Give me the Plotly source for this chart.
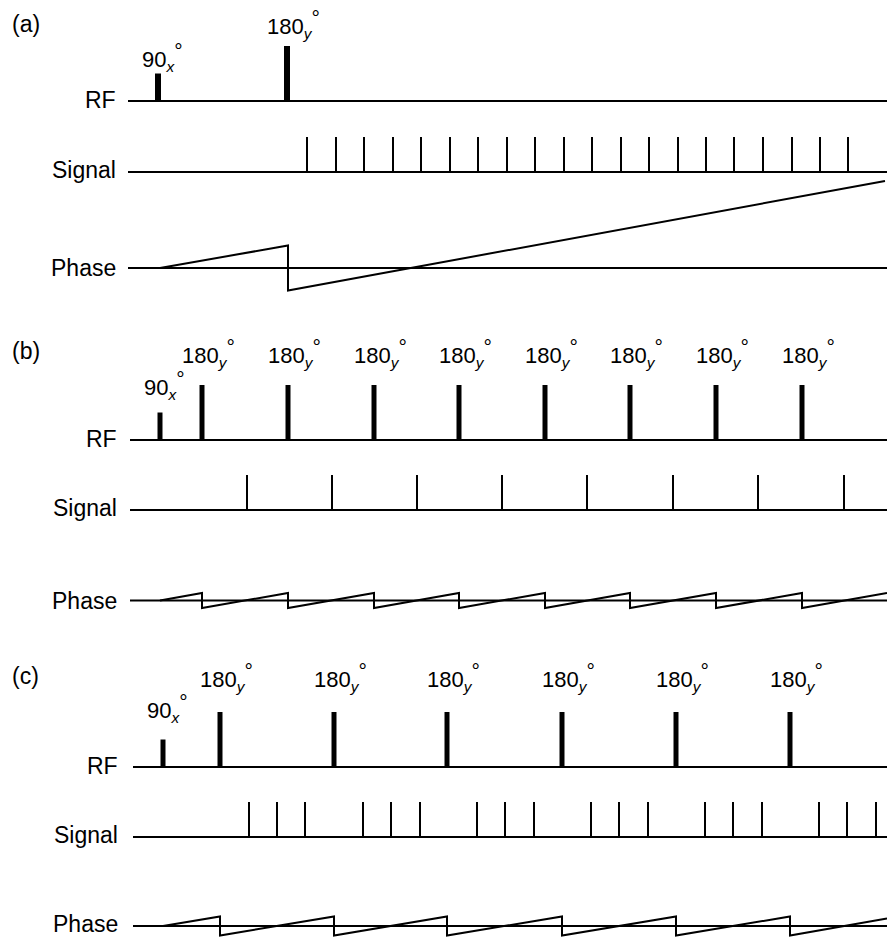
import plotly.graph_objects as go

W, H = 887, 937

# ---------------------------------------------------------------------------
# Pulse-sequence data.  Times are in arbitrary sketch units along the common
# time axis; RF amplitudes are flip angles in degrees; echo amplitudes are
# normalised; phase is in arbitrary units.
# ---------------------------------------------------------------------------

# (a) single refocusing pulse, signal sampled continuously
a_line_start = 128
a_rf_t = [158, 287]
a_rf_deg = [90, 180]
a_rf_axis = ["x", "y"]
a_sig_t = [307, 336, 364, 393, 421, 450, 478, 507, 535, 564,
           592, 621, 649, 678, 706, 734, 763, 792, 820, 848]
a_phase_t = [160, 288, 288, 885]
a_phase_v = [0, 22.5, -22.5, 87]

# (b) pulse train, one echo per interval
b_line_start = 130
b_rf_t = [160, 202, 288, 374, 459, 545, 630, 716, 802]
b_rf_deg = [90, 180, 180, 180, 180, 180, 180, 180, 180]
b_rf_axis = ["x", "y", "y", "y", "y", "y", "y", "y", "y"]
b_sig_t = [247, 332, 417, 502, 587, 673, 758, 844]
b_phase_t = [160, 202, 202, 288, 288, 374, 374, 459, 459,
             545, 545, 630, 630, 716, 716, 802, 802, 887]
b_phase_v = [0, 7.5, -7.5, 7.5, -7.5, 7.5, -7.5, 7.5, -7.5,
             7.5, -7.5, 7.5, -7.5, 7.5, -7.5, 7.5, -7.5, 7.5]

# (c) pulse train, three samples per interval
c_line_start = 133
c_rf_t = [163, 220, 334, 447, 562, 676, 790]
c_rf_deg = [90, 180, 180, 180, 180, 180, 180]
c_rf_axis = ["x", "y", "y", "y", "y", "y", "y"]
c_sig_t = [249, 277, 305, 363, 391, 420, 477, 505, 534,
           591, 619, 648, 705, 733, 762, 819, 847, 876]
c_phase_t = [163, 220, 220, 334, 334, 447, 447, 562, 562,
             676, 676, 790, 790, 887]
c_phase_v = [0, 9.5, -9.5, 9.5, -9.5, 9.5, -9.5, 9.5, -9.5,
             9.5, -9.5, 9.5, -9.5, 7.5]

row_names = ["RF", "Signal", "Phase"]
panel_tags = ["(a)", "(b)", "(c)"]

# ---------------------------------------------------------------------------
# Layout geometry (pixels from the top of the page)
# ---------------------------------------------------------------------------
panels = [
    dict(tag_y=24, base=[101, 172, 268], line_start=a_line_start,
         rf_t=a_rf_t, rf_deg=a_rf_deg, rf_axis=a_rf_axis, sig_t=a_sig_t,
         ph_t=a_phase_t, ph_v=a_phase_v, bar_w=6, lbl_dy=[17, 22],
         phase_up=91, phase_down=28, name_x=117, name_dy=[1, 2, 0]),
    dict(tag_y=351, base=[440, 510, 600.5], line_start=b_line_start,
         rf_t=b_rf_t, rf_deg=b_rf_deg, rf_axis=b_rf_axis, sig_t=b_sig_t,
         ph_t=b_phase_t, ph_v=b_phase_v, bar_w=5, lbl_dy=[28, 32],
         phase_up=22, phase_down=14, name_x=118, name_dy=[1, 2, 0]),
    dict(tag_y=676, base=[767, 837, 926], line_start=c_line_start,
         rf_t=c_rf_t, rf_deg=c_rf_deg, rf_axis=c_rf_axis, sig_t=c_sig_t,
         ph_t=c_phase_t, ph_v=c_phase_v, bar_w=5, lbl_dy=[32, 35],
         phase_up=22, phase_down=11, name_x=119, name_dy=[1, 2, 2]),
]

RF_SCALE = 55 / 180.0   # px per degree
SIG_SCALE = 35.0        # px per unit echo amplitude
PH_SCALE = 1.0          # px per phase unit

FAMILY = "Liberation Sans, Arial, Helvetica, sans-serif"
NAME_FONT = dict(family=FAMILY, size=23, color="black")
LABEL_FONT = dict(family=FAMILY, size=22, color="black")
INK = "black"


def row_axis(baseline, scale, up, down):
    top = max(baseline - up, 0)
    bot = min(baseline + down, H)
    return dict(domain=[1 - bot / H, 1 - top / H],
                range=[-(bot - baseline) / scale, (baseline - top) / scale],
                visible=False, fixedrange=True, anchor="x")


def pulse_text(deg, ax):
    return (f"{deg}<sub><i>{ax}</i></sub>"
            f"<sup><span style='font-size:21px'>°</span></sup>")


fig = go.Figure()
layout_axes = {}
annotations = []
axis_no = 0

for p, tag in zip(panels, panel_tags):
    rows = [
        (p["base"][0], RF_SCALE, 66, 8),
        (p["base"][1], SIG_SCALE, 44, 4),
        (p["base"][2], PH_SCALE, p["phase_up"], p["phase_down"]),
    ]
    ids = []
    for base, scale, up, down in rows:
        axis_no += 1
        key = "yaxis" if axis_no == 1 else f"yaxis{axis_no}"
        layout_axes[key] = row_axis(base, scale, up, down)
        ids.append("y" if axis_no == 1 else f"y{axis_no}")
    y_rf, y_sig, y_ph = ids

    # baselines of the three rows
    for yid in ids:
        fig.add_trace(go.Scatter(
            x=[p["line_start"], W], y=[0, 0], mode="lines",
            line=dict(color=INK, width=2), yaxis=yid, hoverinfo="skip"))

    # RF pulses as narrow bars whose height is the flip angle
    fig.add_trace(go.Bar(
        x=p["rf_t"], y=p["rf_deg"], width=p["bar_w"], yaxis=y_rf,
        marker=dict(color=INK, line=dict(width=0)), hoverinfo="skip"))

    # echo / sampling marks
    sx, sy = [], []
    for t in p["sig_t"]:
        sx += [t, t, None]
        sy += [0, 1, None]
    fig.add_trace(go.Scatter(
        x=sx, y=sy, mode="lines", line=dict(color=INK, width=2),
        yaxis=y_sig, hoverinfo="skip"))

    # phase evolution
    fig.add_trace(go.Scatter(
        x=p["ph_t"], y=p["ph_v"], mode="lines",
        line=dict(color=INK, width=2), yaxis=y_ph, hoverinfo="skip"))

    # row names
    for name, yid, ndy in zip(row_names, ids, p["name_dy"]):
        annotations.append(dict(
            x=p["name_x"], y=0, xref="x", yref=yid, text=name,
            showarrow=False, xanchor="right", yanchor="middle",
            yshift=ndy, borderpad=0, font=NAME_FONT))

    # pulse labels
    for t, deg, ax in zip(p["rf_t"], p["rf_deg"], p["rf_axis"]):
        dy = p["lbl_dy"][0] if deg == 90 else p["lbl_dy"][1]
        dx = -18 if deg == 90 else -22
        annotations.append(dict(
            x=t, y=deg, xref="x", yref=y_rf, text=pulse_text(deg, ax),
            showarrow=False, xanchor="left", yanchor="middle",
            xshift=dx, yshift=dy, font=LABEL_FONT))

    # panel tag
    annotations.append(dict(
        x=10 / W, y=1 - p["tag_y"] / H, xref="paper", yref="paper",
        text=tag, showarrow=False, xanchor="left", yanchor="middle",
        font=NAME_FONT))

fig.update_layout(
    width=W, height=H,
    margin=dict(l=0, r=0, t=0, b=0),
    paper_bgcolor="white", plot_bgcolor="white",
    showlegend=False, barmode="overlay",
    xaxis=dict(range=[0, W], domain=[0, 1], visible=False, fixedrange=True),
    annotations=annotations,
    **layout_axes,
)

fig.write_html("out.html", config={"displayModeBar": False})
